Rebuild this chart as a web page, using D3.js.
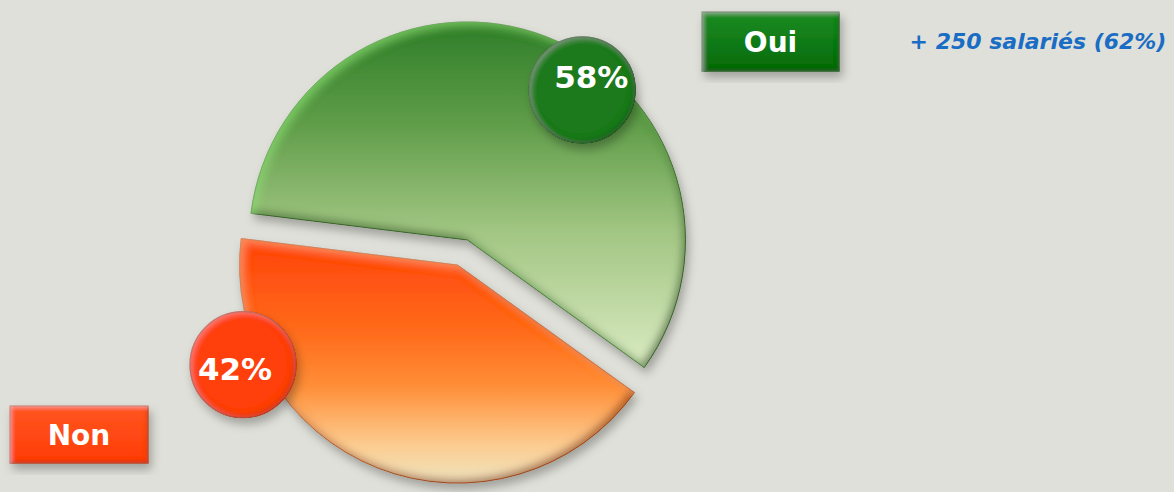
<!DOCTYPE html>
<html>
<head>
  <meta charset="utf-8">
  <title></title>
  <style>
    html, body { margin: 0; padding: 0; background: #e0e0da; }
    svg { display: block; }
    text { font-family: "DejaVu Sans", Verdana, sans-serif; font-weight: bold; }
  </style>
</head>
<body>
<script src="https://cdn.jsdelivr.net/npm/d3@7"></script>
<script>
// data
var categories = ['Oui', 'Non']
var values = [58, 42]
var labels = ['58%', '42%']
var note = '+ 250 salariés (62%)'

var width = 1174
var height = 492
var center = { x: 462.5, y: 252.5 }
var radius = 218
var explode = 13.5

// slice looks (gradient spans are in slice-local px, top to bottom)
var faceStops = [
  [['0', '#2f7e29'], ['0.28', '#5e9c48'], ['0.6', '#a2c683'], ['1', '#dcecc4']],
  [['0', '#ff420c'], ['0.38', '#ff6a1a'], ['0.6', '#ff8d36'], ['0.85', '#fccd92'], ['1', '#eee4bf']]
]
var faceSpan = [[-217, 132], [-28, 218]]
var shadeCol = ['#28501c', '#8a3005']
var hiCol = ['#8fe676', '#ffb27a']
var edgeCol = ['#2f5a22', '#a4400c']
var bubbleCol = ['#1c7a1c', '#ff400f']
var bubbleEdge = ['#0f5212', '#b8300a']
var boxCol = [['#1c8c22', '#056a0b'], ['#ff5520', '#ff3c08']]

// label bubble placement, polar from the slice centre (degrees / px)
var bubbleAngle = [37.4, 245.1]
var bubbleDist = [189, 236.5]
var bubbleR = 53
var textShift = [[9, -2], [-8, 15]]

var legendBox = [
  { x: 702, y: 12, w: 137, h: 59 },
  { x: 10, y: 406, w: 138, h: 57 }
]

var svg = d3.select('body').append('svg')
  .attr('width', width)
  .attr('height', height)

var defs = svg.append('defs')

function bevel(id, shade, light, blur, off, hiOp) {
  var f = defs.append('filter').attr('id', id)
    .attr('x', '-20%').attr('y', '-20%').attr('width', '140%').attr('height', '140%')
  f.append('feGaussianBlur').attr('in', 'SourceAlpha').attr('stdDeviation', blur).attr('result', 'blur')
  f.append('feOffset').attr('in', 'blur').attr('dx', off).attr('dy', off * 1.2).attr('result', 'blurDown')
  f.append('feOffset').attr('in', 'blur').attr('dx', -off).attr('dy', -off * 1.2).attr('result', 'blurUp')
  f.append('feComposite').attr('in', 'SourceAlpha').attr('in2', 'blurDown')
    .attr('operator', 'arithmetic').attr('k2', 1).attr('k3', -1).attr('result', 'hiMask')
  f.append('feComposite').attr('in', 'SourceAlpha').attr('in2', 'blurUp')
    .attr('operator', 'arithmetic').attr('k2', 1).attr('k3', -1).attr('result', 'loMask')
  f.append('feFlood').attr('flood-color', light).attr('flood-opacity', hiOp).attr('result', 'hiCol')
  f.append('feComposite').attr('in', 'hiCol').attr('in2', 'hiMask').attr('operator', 'in').attr('result', 'hi')
  f.append('feFlood').attr('flood-color', shade).attr('flood-opacity', 0.8).attr('result', 'loCol')
  f.append('feComposite').attr('in', 'loCol').attr('in2', 'loMask').attr('operator', 'in').attr('result', 'lo')
  // soft drop shadow
  f.append('feGaussianBlur').attr('in', 'SourceAlpha').attr('stdDeviation', 5).attr('result', 'sb')
  f.append('feOffset').attr('in', 'sb').attr('dx', 3).attr('dy', 6).attr('result', 'so')
  f.append('feFlood').attr('flood-color', '#000').attr('flood-opacity', 0.28).attr('result', 'sc')
  f.append('feComposite').attr('in', 'sc').attr('in2', 'so').attr('operator', 'in').attr('result', 'shadow')
  var m = f.append('feMerge')
  m.append('feMergeNode').attr('in', 'shadow')
  m.append('feMergeNode').attr('in', 'SourceGraphic')
  m.append('feMergeNode').attr('in', 'lo')
  m.append('feMergeNode').attr('in', 'hi')
}

categories.forEach(function(c, i) {
  bevel('bev' + i, shadeCol[i], hiCol[i], 4, 3.5, 0.55)
  bevel('bub' + i, bubbleEdge[i], '#ffffff', 3, 2, 0.2)
  bevel('box' + i, bubbleEdge[i], '#ffffff', 2, 1.5, 0.3)
  var g = defs.append('linearGradient').attr('id', 'face' + i)
    .attr('gradientUnits', 'userSpaceOnUse')
    .attr('x1', 0).attr('x2', 0)
    .attr('y1', faceSpan[i][0]).attr('y2', faceSpan[i][1])
  faceStops[i].forEach(function(s) {
    g.append('stop').attr('offset', s[0]).attr('stop-color', s[1])
  })
  var bg = defs.append('linearGradient').attr('id', 'boxg' + i)
    .attr('x1', 0).attr('x2', 0).attr('y1', 0).attr('y2', 1)
  bg.append('stop').attr('offset', '0').attr('stop-color', boxCol[i][0])
  bg.append('stop').attr('offset', '1').attr('stop-color', boxCol[i][1])
})

var pie = d3.pie()
  .sort(null)
  .startAngle(-83 * Math.PI / 180)
  .endAngle(277 * Math.PI / 180)

var arcs = pie(values)
var arc = d3.arc().innerRadius(0).outerRadius(radius)

function sliceCenter(d) {
  var mid = (d.startAngle + d.endAngle) / 2
  var p = d3.pointRadial(mid, explode)
  return [center.x + p[0], center.y + p[1]]
}

var slices = svg.selectAll('g.slice')
  .data(arcs)
  .enter()
  .append('g')
  .attr('class', 'slice')
  .attr('transform', function(d) {
    var c = sliceCenter(d)
    return 'translate(' + c[0] + ',' + c[1] + ')'
  })

slices.append('path')
  .attr('d', arc)
  .attr('fill', function(d, i) { return 'url(#face' + i + ')' })
  .attr('stroke', function(d, i) { return edgeCol[i] })
  .attr('stroke-opacity', 0.75)
  .attr('stroke-width', 1)
  .attr('filter', function(d, i) { return 'url(#bev' + i + ')' })

// percentage bubbles
var bubbles = slices.append('g')
  .attr('transform', function(d, i) {
    var p = d3.pointRadial(bubbleAngle[i] * Math.PI / 180, bubbleDist[i])
    return 'translate(' + p[0] + ',' + p[1] + ')'
  })

bubbles.append('circle')
  .attr('r', bubbleR)
  .attr('fill', function(d, i) { return bubbleCol[i] })
  .attr('stroke', function(d, i) { return bubbleEdge[i] })
  .attr('stroke-width', 1.2)
  .attr('filter', function(d, i) { return 'url(#bub' + i + ')' })

bubbles.append('text')
  .attr('x', function(d, i) { return textShift[i][0] })
  .attr('y', function(d, i) { return textShift[i][1] })
  .attr('text-anchor', 'middle')
  .attr('fill', '#fff')
  .attr('font-size', 31)
  .text(function(d, i) { return labels[i] })

// legend boxes
var legend = svg.selectAll('g.legend')
  .data(categories)
  .enter()
  .append('g')
  .attr('class', 'legend')
  .attr('transform', function(d, i) {
    return 'translate(' + legendBox[i].x + ',' + legendBox[i].y + ')'
  })

legend.append('rect')
  .attr('width', function(d, i) { return legendBox[i].w })
  .attr('height', function(d, i) { return legendBox[i].h })
  .attr('fill', function(d, i) { return 'url(#boxg' + i + ')' })
  .attr('stroke', function(d, i) { return bubbleEdge[i] })
  .attr('stroke-width', 1)
  .attr('filter', function(d, i) { return 'url(#box' + i + ')' })

legend.append('text')
  .attr('x', function(d, i) { return legendBox[i].w / 2 })
  .attr('y', function(d, i) { return legendBox[i].h / 2 + 10 })
  .attr('text-anchor', 'middle')
  .attr('fill', '#fff')
  .attr('font-size', 28)
  .text(function(d) { return d })

svg.append('text')
  .attr('x', 1038)
  .attr('y', 49)
  .attr('text-anchor', 'middle')
  .attr('fill', '#1a6dc4')
  .attr('font-size', 22)
  .attr('font-style', 'italic')
  .text(note)
</script>
</body>
</html>
